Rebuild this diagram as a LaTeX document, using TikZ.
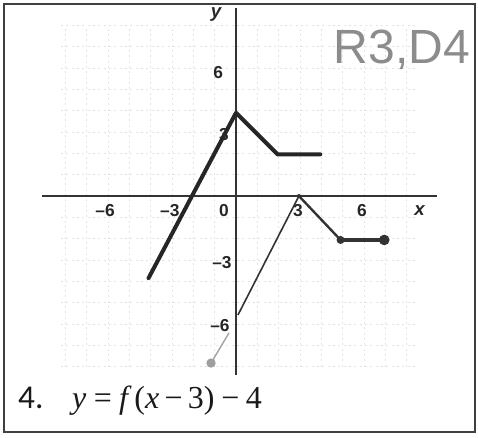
\documentclass[tikz,border=0pt]{standalone}
\usepackage{fontspec}
\setmainfont{Liberation Serif}
\setsansfont{Liberation Sans}
\newfontfamily\capfont{Carlito}
\begin{document}
\begin{tikzpicture}[x=16pt,y=16pt,
  ticklab/.style={font=\sffamily\bfseries\fontsize{13}{13}\selectfont, text=black!85, inner sep=0pt},
  gridline/.style={gray!22, line width=0.6pt, dash pattern=on 1.5pt off 2.5pt},
  axisline/.style={black!80, line width=2.2pt},
  fthick/.style={black!85, line width=3pt, line cap=round, line join=round},
  gthin/.style={black!80, line width=1.2pt},
  dotmark/.style={circle, fill=black!80, inner sep=0pt, minimum size=#1}]
\useasboundingbox (-11.0625,-11.34375) rectangle (11.34375,9.1875);
\draw[black!75, line width=1.5pt] (-10.875,-11.0625) rectangle (11.203,9.0);
% grid
\foreach \x in {-8,...,8} \draw[gridline] (\x,-8) -- (\x,8);
\foreach \y in {-8,...,8} \draw[gridline] (-8.2,\y) -- (8.5,\y);
% axes
\coordinate (xl) at (-9.09,0);
\coordinate (xr) at (9.42,0);
\coordinate (yb) at (0,-8.39);
\coordinate (yt) at (0,8.81);
\draw[axisline] (xl) -- (xr);
\draw[axisline] (yb) -- (yt);
% tick labels
\node[ticklab] (lxm6) at (-6.14,-0.66) {–6};
\node[ticklab] (lxm3) at (-3.1,-0.66) {–3};
\node[ticklab] (lx0) at (-0.56,-0.66) {0};
\node[ticklab] (lx3) at (2.9,-0.66) {3};
\node[ticklab] (lx6) at (5.9,-0.66) {6};
\node[ticklab, font=\sffamily\bfseries\itshape\fontsize{14}{14}\selectfont] (lx) at (8.6,-0.66) {x};
\node[ticklab, font=\sffamily\bfseries\itshape\fontsize{14}{14}\selectfont] (ly) at (-0.94,8.5) {y};
\node[ticklab] (ly6) at (-0.84,5.8) {6};
\node[ticklab] (ly3) at (-0.56,2.9) {3};
\node[ticklab] (lym3) at (-0.66,-3.1) {–3};
\node[ticklab] (lym6) at (-0.75,-6.05) {–6};
% f
\coordinate (f1) at (-4.1,-3.85);
\coordinate (f2) at (0,3.9);
\coordinate (f3) at (1.95,1.95);
\coordinate (f4) at (3.95,1.95);
\draw[fthick] (f1) -- (f2) -- (f3) -- (f4);
% transformed
\coordinate (g0) at (-1.17,-7.83);
\coordinate (g0e) at (-0.33,-6.42);
\coordinate (g1s) at (0.09,-5.58);
\coordinate (g1) at (2.95,0);
\coordinate (g2) at (4.9,-2.06);
\coordinate (g3) at (6.95,-2.06);
\draw[gray!70, line width=1.1pt] (g0) -- (g0e);
\draw[gthin] (g1s) -- (g1);
\draw[black!80, line width=1.8pt, line join=round] (g1) -- (g2);
\draw[black!80, line width=2.4pt] (g2) -- (g3);
\node[dotmark=7pt, fill=gray!75] (d0) at (g0) {};
\node[dotmark=3pt] (d1) at (g1) {};
\node[dotmark=6pt] (d2) at (g2) {};
\node[dotmark=8pt] (d3) at (g3) {};
% handwritten note
\node[text=gray!90, font=\sffamily\fontsize{36}{36}\selectfont, inner sep=0pt] (note) at (7.78,6.84) {R3,D4};
% caption
\node[anchor=base west, inner sep=0pt, font=\capfont\fontsize{25}{25}\selectfont, text=black!90] (num) at (-10.22,-9.94) {4.};
\node[anchor=base west, inner sep=0pt, font=\fontsize{24}{24}\selectfont, text=black!90] (eq) at (-7.69,-9.94) {\textit{y}\hspace{5.5pt}=\hspace{5.5pt}\textit{f}\hspace{2pt}(\textit{x}\hspace{4pt}−\hspace{4pt}3)\hspace{5pt}−\hspace{5pt}4};
\end{tikzpicture}
\end{document}
